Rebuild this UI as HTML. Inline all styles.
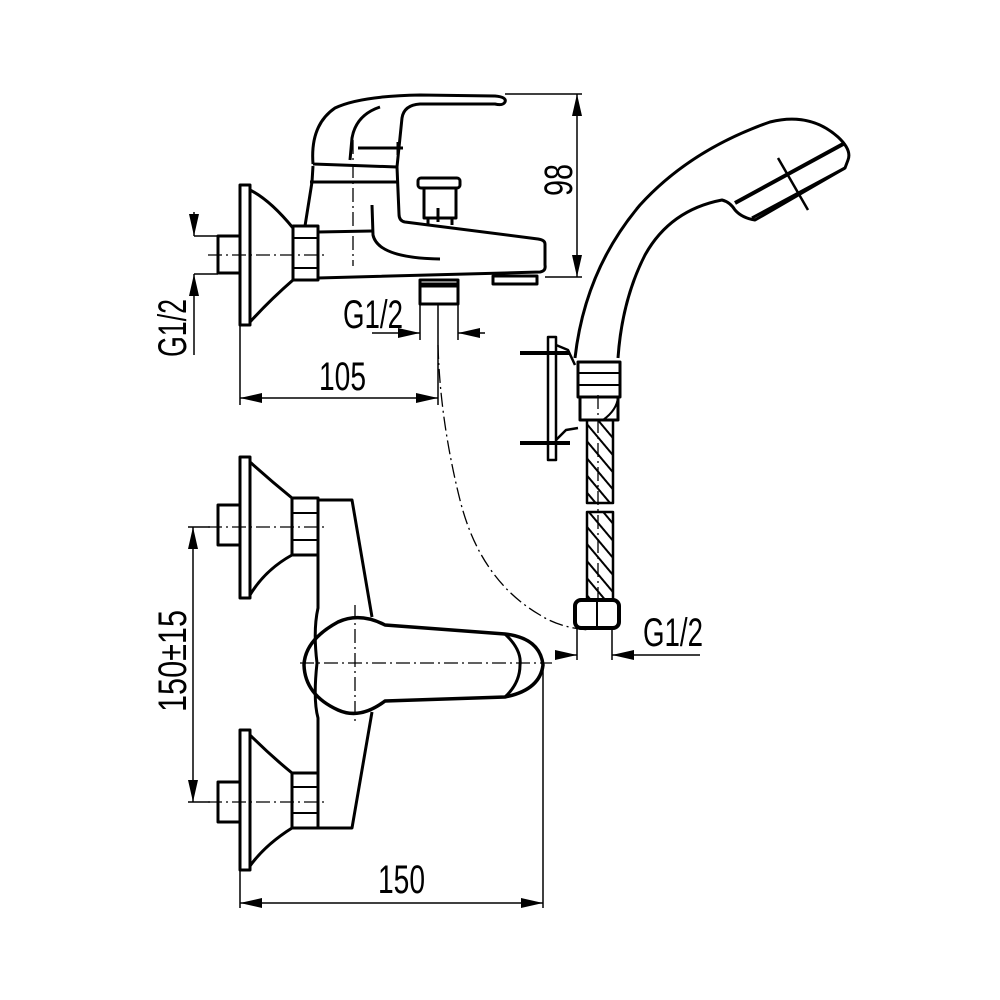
<!DOCTYPE html>
<html><head><meta charset="utf-8"><style>
html,body{margin:0;padding:0;background:#fff}
svg{display:block}
text{font-family:"Liberation Sans",sans-serif;font-size:40px;fill:#000}
</style></head><body>
<svg width="1000" height="1000" viewBox="0 0 1000 1000" xmlns="http://www.w3.org/2000/svg">
<defs>
<marker id="a" viewBox="0 0 22 10" refX="22" refY="5" markerWidth="22" markerHeight="10" markerUnits="userSpaceOnUse" orient="auto"><path d="M0,0 L22,5 L0,10 Z" fill="#000"/></marker>
<pattern id="h" width="11" height="11" patternUnits="userSpaceOnUse" patternTransform="rotate(-40)"><line x1="0" y1="0" x2="0" y2="11" stroke="#000" stroke-width="4"/></pattern>
</defs>
<g fill="none" stroke="#000" stroke-width="3" stroke-linejoin="round">
<!-- TOP VIEW -->
<rect x="240" y="185" width="10" height="140"/>
<path d="M250,190 Q270,200 293,228 M293,280 Q270,300 250,322"/>
<rect x="218" y="236" width="22" height="37"/>
<rect x="293" y="226" width="25" height="54"/>
<line x1="293" y1="238" x2="318" y2="238" stroke-width="2"/>
<line x1="293" y1="268" x2="318" y2="268" stroke-width="2"/>
<path d="M318,278 L540,272 Q546,271 545,265 L545,244 Q545,240 538,239 L405,222 Q399,221 399,214 L397,167"/>
<path d="M305,226 L312,182 L313,166"/>
<path d="M318,232 L372,231"/>
<line x1="310" y1="182" x2="397" y2="182"/>
<path d="M313,164 L397,167 M313,164 Q310,125 335,108 Q360,96 420,95 L495,96 Q507,97 505,102 Q503,106 495,104 L420,104 Q404,105 402,118 L397,167"/>
<path d="M350,160 L352,138 Q356,115 380,107"/>
<line x1="358" y1="148" x2="403" y2="148"/>
<line x1="398" y1="142" x2="398" y2="155"/>
<path d="M372,205 L373,235 Q378,258 440,259"/>
<rect x="418" y="178" width="42" height="10" rx="3"/>
<path d="M424,188 L424,218 L456,218 L456,188"/>
<path d="M428,218 L428,225 M452,218 L452,225"/>
<line x1="438" y1="208" x2="438" y2="222"/>
<rect x="420" y="280" width="38" height="24"/>
<line x1="420" y1="285" x2="458" y2="285" stroke-width="5"/>
<rect x="493" y="276" width="44" height="8"/>
<g stroke-width="1.3" stroke-dasharray="14,4,2,4">
<line x1="208" y1="255" x2="328" y2="255"/>
<line x1="353" y1="140" x2="353" y2="266"/>
<line x1="355" y1="605" x2="355" y2="722"/>
<line x1="300" y1="663" x2="552" y2="663"/>
<path d="M438,345 Q440,420 460,500 Q480,580 540,615 Q560,628 590,630"/>
<line x1="598" y1="395" x2="598" y2="600"/>
<line x1="208" y1="527" x2="325" y2="527"/>
<line x1="208" y1="802" x2="325" y2="802"/>
</g>
<!-- FRONT VIEW -->
<rect x="240" y="457" width="10" height="141"/>
<path d="M250,462 Q270,480 292,498 M292,555 Q265,570 250,595"/>
<rect x="218" y="505" width="22" height="40"/>
<rect x="292" y="498" width="26" height="57"/>
<line x1="292" y1="513" x2="318" y2="513" stroke-width="2"/>
<line x1="292" y1="540" x2="318" y2="540" stroke-width="2"/>
<rect x="240" y="730" width="10" height="140"/>
<path d="M250,735 Q270,755 292,773 M292,828 Q265,845 250,866"/>
<rect x="218" y="782" width="22" height="40"/>
<rect x="292" y="773" width="26" height="55"/>
<line x1="292" y1="787" x2="318" y2="787" stroke-width="2"/>
<line x1="292" y1="813" x2="318" y2="813" stroke-width="2"/>
<path d="M318,500 L352,500 L372,617 M372,712 L352,828 L318,828 L318,718 Q313,700 317,663 Q313,630 318,608 L318,500"/>
<path d="M385,625 Q360,612 338,622 Q305,640 304,665 Q305,695 338,710 Q360,720 385,701 L505,697 Q540,690 543,665 Q540,638 505,634 Z" stroke-width="3.5"/>
<path d="M505,634 Q522,650 520,665 Q520,683 505,697"/>
<!-- HAND SHOWER -->
<path d="M575,358 Q585,270 640,205 Q690,150 770,122 Q810,112 838,137 Q852,150 848,160 L845,168 L755,220 Q742,218 735,210 Q730,202 722,200 Q670,210 645,255 Q622,300 618,358"/>
<line x1="735" y1="203" x2="845" y2="143" stroke-width="4"/>
<line x1="752" y1="218" x2="845" y2="168"/>
<line x1="778" y1="158" x2="808" y2="210" stroke-width="2.5"/>
<rect x="578" y="362" width="42" height="35"/>
<rect x="580" y="397" width="38" height="23"/>
<line x1="578" y1="373" x2="620" y2="373" stroke-width="2"/>
<line x1="578" y1="385" x2="620" y2="385" stroke-width="2"/>
<path d="M603,420 Q617,410 618,397" stroke-width="2"/>
<rect x="548" y="337" width="8" height="123" stroke-width="2.5"/>
<path d="M556,345 L568,350 L575,365 M556,440 L566,430 L578,428" stroke-width="2.5"/>
<path d="M520,353 L570,353 M520,443 L570,443" stroke-width="4"/>
<rect x="587" y="420" width="26" height="83" fill="url(#h)" stroke-width="2.5"/>
<rect x="587" y="512" width="26" height="88" fill="url(#h)" stroke-width="2.5"/>
<rect x="575" y="600" width="44" height="28" rx="6" stroke-width="4"/>
<line x1="597" y1="600" x2="597" y2="628" stroke-width="2"/>
</g>
<!-- DIMENSIONS -->
<g fill="none" stroke="#000" stroke-width="1.5">
<line x1="505" y1="94" x2="582" y2="94"/>
<line x1="545" y1="277" x2="582" y2="277"/>
<line x1="577" y1="185" x2="577" y2="94" marker-end="url(#a)"/>
<line x1="577" y1="185" x2="577" y2="277" marker-end="url(#a)"/>
<line x1="194" y1="236" x2="218" y2="236"/>
<line x1="194" y1="274" x2="218" y2="274"/>
<line x1="194" y1="212" x2="194" y2="236" marker-end="url(#a)"/>
<line x1="194" y1="355" x2="194" y2="274" marker-end="url(#a)"/>
<line x1="420" y1="304" x2="420" y2="340"/>
<line x1="458" y1="304" x2="458" y2="340"/>
<line x1="372" y1="333" x2="420" y2="333" marker-end="url(#a)"/>
<line x1="485" y1="333" x2="458" y2="333" marker-end="url(#a)"/>
<line x1="240" y1="325" x2="240" y2="405"/>
<line x1="438" y1="305" x2="438" y2="405"/>
<line x1="339" y1="398" x2="438" y2="398" marker-end="url(#a)"/>
<line x1="339" y1="398" x2="240" y2="398" marker-end="url(#a)"/>
<line x1="188" y1="527" x2="210" y2="527"/>
<line x1="188" y1="802" x2="210" y2="802"/>
<line x1="193" y1="665" x2="193" y2="527" marker-end="url(#a)"/>
<line x1="193" y1="665" x2="193" y2="802" marker-end="url(#a)"/>
<line x1="240" y1="870" x2="240" y2="908"/>
<line x1="543" y1="665" x2="543" y2="908"/>
<line x1="391" y1="903" x2="543" y2="903" marker-end="url(#a)"/>
<line x1="391" y1="903" x2="240" y2="903" marker-end="url(#a)"/>
<line x1="577" y1="628" x2="577" y2="660"/>
<line x1="612" y1="628" x2="612" y2="660"/>
<line x1="555" y1="655" x2="577" y2="655" marker-end="url(#a)"/>
<line x1="700" y1="655" x2="612" y2="655" marker-end="url(#a)"/>
</g>
<text x="343" y="328" textLength="60" lengthAdjust="spacingAndGlyphs">G1/2</text>
<text x="319" y="390" textLength="47" lengthAdjust="spacingAndGlyphs">105</text>
<text x="378" y="893" textLength="47" lengthAdjust="spacingAndGlyphs">150</text>
<text x="643" y="646" textLength="60" lengthAdjust="spacingAndGlyphs">G1/2</text>
<text transform="translate(186,357) rotate(-90)" textLength="58" lengthAdjust="spacingAndGlyphs">G1/2</text>
<text transform="translate(572,196) rotate(-90)" textLength="32" lengthAdjust="spacingAndGlyphs">98</text>
<text transform="translate(186,712) rotate(-90)" textLength="102" lengthAdjust="spacingAndGlyphs">150±15</text>
</svg>
</body></html>
